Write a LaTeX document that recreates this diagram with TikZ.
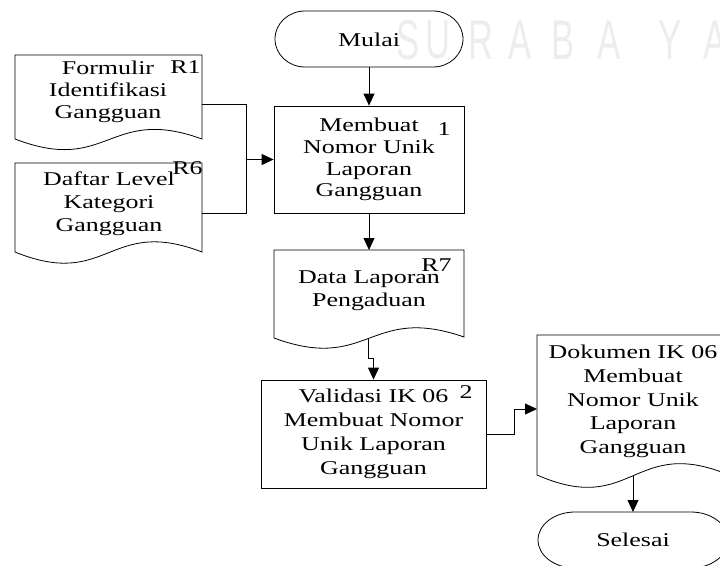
\documentclass[tikz,border=0pt]{standalone}
\usepackage{fontspec}
\usetikzlibrary{arrows.meta}
\newfontfamily\flowfont[FakeStretch=1.33]{Liberation Serif}
\newfontfamily\markfont{Liberation Sans}

\begin{document}
\begin{tikzpicture}[x=1pt,y=-1pt,
  line/.style={draw=black, line width=0.8pt},
  flow/.style={line, -{Triangle[length=12pt,width=11pt]}},
  txt/.style={font=\flowfont\fontsize{19.5}{#1}\selectfont, align=center, inner sep=0pt},
  txt/.default=22.5,
  tag/.style={font=\flowfont\fontsize{19.5}{22}\selectfont, inner sep=0pt},
  proc/.style={line, rectangle, inner sep=0pt, align=center},
  wm/.style={font=\markfont\fontsize{56}{56}\selectfont, text=black!7, inner sep=0pt}
]
\useasboundingbox (0,0) rectangle (720,565);

% light lettering in the background
\foreach \c/\x [count=\i] in {S/408,U/438,R/481,A/520.5,B/563,A/609.5,Y/670,A/715.5}
  \node[wm] (wm\i) at (\x,40) {\scalebox{0.62}[1]{\c}};

% terminator: Mulai
\draw[line] (305,11) -- (433,11)
  .. controls (449.6,11) and (463,23.5) .. (463,39)
  .. controls (463,54.5) and (449.6,67) .. (433,67) -- (305,67)
  .. controls (288.4,67) and (275,54.5) .. (275,39)
  .. controls (275,23.5) and (288.4,11) .. (305,11) -- cycle;
\node[txt] (mulai) at (369,40) {Mulai};
\coordinate (mulaiB) at (369,67);

% document: Formulir Identifikasi Gangguan
\draw[line] (15,55) -- (202,55) -- (202,139)
  .. controls (108.5,105) and (108.5,175) .. (15,139) -- cycle;
\node[txt=22] (formulir) at (108,92) {Formulir\\Identifikasi\\Gangguan};
\node[tag] (r1) at (185.5,67) {R1};
\coordinate (formR) at (202,104);

% document: Daftar Level Kategori Gangguan
\draw[line] (15,163) -- (202,163) -- (202,252)
  .. controls (108.5,216) and (108.5,290) .. (15,252) -- cycle;
\node[txt=23] (daftar) at (109,204) {Daftar Level\\Kategori\\Gangguan};
\node[tag] (r6) at (187.5,168) {R6};
\coordinate (dafR) at (202,213);

% process 1
\node[proc, minimum width=190pt, minimum height=107pt,
      font=\flowfont\fontsize{19.5}{21.7}\selectfont] (p1) at (369,159.5)
  {Membuat\\Nomor Unik\\Laporan\\Gangguan};
\node[tag] (n1) at (444,129) {1};

% document: Data Laporan Pengaduan
\draw[line] (274,250) -- (464,250) -- (464,337)
  .. controls (369,304) and (369,373) .. (274,338) -- cycle;
\node[txt=23] (r7doc) at (369,290.5) {Data Laporan\\Pengaduan};
\node[tag] (r7) at (436.5,265) {R7};
\coordinate (r7T) at (369,250);
\coordinate (r7B) at (368,338);

% process 2
\node[proc, minimum width=225pt, minimum height=108pt,
      font=\flowfont\fontsize{19.5}{24}\selectfont] (p2) at (373.5,434)
  {Validasi IK 06\\Membuat Nomor\\Unik Laporan\\Gangguan};
\node[tag] (n2) at (466,392) {2};

% document: Dokumen IK 06
\draw[line] (537,335) -- (729,335) -- (729,475)
  .. controls (633,435) and (633,517) .. (537,475) -- cycle;
\node[txt=23.7] (dok) at (633,401.5)
  {Dokumen IK 06\\Membuat\\Nomor Unik\\Laporan\\Gangguan};
\coordinate (dokL) at (537,409);
\coordinate (dokB) at (633,475);

% terminator: Selesai
\draw[line] (575,512) -- (691,512)
  .. controls (711.4,512) and (728,524.5) .. (728,540)
  .. controls (728,555.5) and (711.4,568) .. (691,568) -- (575,568)
  .. controls (554.6,568) and (538,555.5) .. (538,540)
  .. controls (538,524.5) and (554.6,512) .. (575,512) -- cycle;
\node[txt] (selesai) at (633,540) {Selesai};
\coordinate (selT) at (633,512);

% connectors
\coordinate (jn) at (246,159.5);
\draw[flow] (mulaiB) -- (p1.north);
\draw[line] (formR) -| (jn);
\draw[line] (dafR) -| (jn);
\draw[flow] (jn) -- (p1.west);
\draw[flow] (p1.south) -- (r7T);
\draw[flow] (r7B) -- ++(0,20) -| (p2.north);
\draw[flow] (p2.east) -- ++(28,0) |- (dokL);
\draw[flow] (dokB) -- (selT);
\end{tikzpicture}
\end{document}
